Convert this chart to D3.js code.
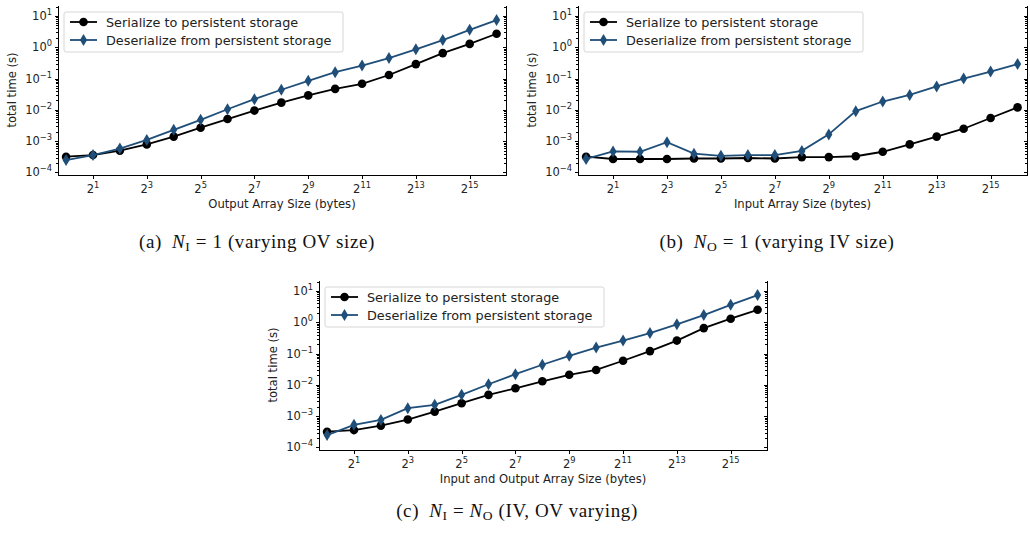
<!DOCTYPE html>
<meta charset="utf-8">
<head>
<style>
body { margin: 0; background: #fff; }
.axis path, .axis line { stroke: #000; stroke-width: 1; shape-rendering: crispEdges; }
.tick-label { font: 11.5px "DejaVu Sans", sans-serif; fill: #222; }
.axis-label { font: 11.6px "DejaVu Sans", sans-serif; fill: #222; }
.legend text { font: 12.8px "DejaVu Sans", sans-serif; fill: #222; }
.caption { font: 19px "Liberation Serif", serif; fill: #111; letter-spacing: 0.6px; }
</style>
<script src="https://d3js.org/d3.v7.min.js"></script>
</head>
<body>
<svg width="1030" height="533"></svg>
<script>

// array sizes in bytes (2^0 .. 2^16)
var arraySizes = [1, 2, 4, 8, 16, 32, 64, 128, 256, 512, 1024, 2048, 4096, 8192, 16384, 32768, 65536];
var xTickExps = [1, 3, 5, 7, 9, 11, 13, 15];
var yTickExps = [-4, -3, -2, -1, 0, 1];

// (a) N_I = 1, varying OV size
var serA   = [3.2e-4, 3.6e-4, 5.0e-4, 7.9e-4, 1.4e-3, 2.7e-3, 5.1e-3, 9.5e-3, 1.7e-2, 2.9e-2, 4.7e-2, 6.8e-2, 0.13, 0.29, 0.65, 1.28, 2.7];
var deserA = [2.5e-4, 3.6e-4, 5.8e-4, 1.1e-3, 2.3e-3, 4.8e-3, 1.05e-2, 2.2e-2, 4.4e-2, 8.5e-2, 0.16, 0.26, 0.45, 0.86, 1.7, 3.6, 7.4];

// (b) N_O = 1, varying IV size
var serB   = [3.2e-4, 2.7e-4, 2.7e-4, 2.7e-4, 2.8e-4, 2.8e-4, 2.9e-4, 2.8e-4, 3.1e-4, 3.1e-4, 3.3e-4, 4.6e-4, 7.9e-4, 1.4e-3, 2.5e-3, 5.5e-3, 1.2e-2];
var deserB = [2.7e-4, 4.7e-4, 4.6e-4, 9.3e-4, 4.0e-4, 3.4e-4, 3.6e-4, 3.6e-4, 4.9e-4, 1.65e-3, 9.1e-3, 1.85e-2, 3.0e-2, 5.6e-2, 0.10, 0.167, 0.29];

// (c) N_I = N_O, IV and OV varying
var serC   = [3.2e-4, 3.6e-4, 5.0e-4, 7.8e-4, 1.4e-3, 2.6e-3, 4.8e-3, 7.8e-3, 1.3e-2, 2.1e-2, 3.0e-2, 5.9e-2, 0.12, 0.26, 0.65, 1.3, 2.5];
var deserC = [2.5e-4, 5.3e-4, 7.6e-4, 1.8e-3, 2.3e-3, 4.8e-3, 1.05e-2, 2.2e-2, 4.4e-2, 8.5e-2, 0.155, 0.26, 0.45, 0.86, 1.7, 3.6, 7.4];

var seriesNames = ["Serialize to persistent storage", "Deserialize from persistent storage"];
var colors = ["#000000", "#1f4e79"];

var svg = d3.select("svg");

var panels = [
  { left: 58,  top: 5,   w: 448, h: 170, ser: serA, deser: deserA, xlabel: "Output Array Size (bytes)" },
  { left: 578, top: 5,   w: 449, h: 170, ser: serB, deser: deserB, xlabel: "Input Array Size (bytes)" },
  { left: 319, top: 280, w: 448, h: 170, ser: serC, deser: deserC, xlabel: "Input and Output Array Size (bytes)" }
];

panels.forEach(drawPanel);

function drawPanel(p) {
  var right = p.left + p.w, bottom = p.top + p.h;
  var g = svg.append("g");

  var x = d3.scaleLog().base(2)
      .domain([Math.pow(2, -0.3), Math.pow(2, 16.35)])
      .range([p.left, right]);
  var y = d3.scaleLog()
      .domain([Math.pow(10, -4.08), Math.pow(10, 1.35)])
      .range([bottom, p.top]);

  var majors = yTickExps.map(function(e) { return Math.pow(10, e); });
  var minors = [];
  yTickExps.forEach(function(e) {
    for (var k = 2; k <= 9; k++) {
      var v = k * Math.pow(10, e);
      if (v <= y.domain()[1]) minors.push(v);
    }
  });

  // left spine + ticks
  g.append("g").attr("class", "axis")
      .attr("transform", "translate(" + p.left + ",0)")
      .call(d3.axisLeft(y).tickValues(majors).tickSizeInner(3.5).tickSizeOuter(0).tickFormat(""));
  g.append("g").attr("class", "axis")
      .attr("transform", "translate(" + p.left + ",0)")
      .call(d3.axisLeft(y).tickValues(minors).tickSizeInner(2).tickSizeOuter(0).tickFormat(""));

  // right spine, ticks pointing in
  g.append("g").attr("class", "axis")
      .attr("transform", "translate(" + right + ",0)")
      .call(d3.axisLeft(y).tickValues(majors).tickSizeInner(3.5).tickSizeOuter(0).tickFormat(""));
  g.append("g").attr("class", "axis")
      .attr("transform", "translate(" + right + ",0)")
      .call(d3.axisLeft(y).tickValues(minors).tickSizeInner(2).tickSizeOuter(0).tickFormat(""));

  // y tick labels with superscripts
  yTickExps.forEach(function(e) {
    var t = g.append("text").attr("class", "tick-label")
        .attr("x", p.left - 6)
        .attr("y", y(Math.pow(10, e)) + 4)
        .attr("text-anchor", "end");
    t.append("tspan").text("10");
    t.append("tspan").attr("dy", -5).style("font-size", "8.3px")
        .text(e < 0 ? "\u2212" + (-e) : String(e));
  });

  // bottom spine + ticks
  g.append("g").attr("class", "axis")
      .attr("transform", "translate(0," + bottom + ")")
      .call(d3.axisBottom(x).tickValues(xTickExps.map(function(e) { return Math.pow(2, e); }))
        .tickSizeInner(3.5).tickSizeOuter(0).tickFormat(""));

  xTickExps.forEach(function(e) {
    var t = g.append("text").attr("class", "tick-label")
        .attr("x", x(Math.pow(2, e)))
        .attr("y", bottom + 18)
        .attr("text-anchor", "middle");
    t.append("tspan").text("2");
    t.append("tspan").attr("dy", -5).style("font-size", "8.3px").text(String(e));
  });

  // axis labels
  g.append("text").attr("class", "axis-label")
      .attr("x", (p.left + right) / 2)
      .attr("y", bottom + 33)
      .attr("text-anchor", "middle")
      .text(p.xlabel);
  g.append("text").attr("class", "axis-label")
      .attr("transform", "translate(" + (p.left - 42) + "," + (p.top + p.h / 2) + ") rotate(-90)")
      .attr("text-anchor", "middle")
      .text("total time (s)");

  // lines
  var line = d3.line()
      .x(function(d, i) { return x(arraySizes[i]); })
      .y(function(d) { return y(d); });

  [p.ser, p.deser].forEach(function(vals, si) {
    g.append("path")
        .attr("d", line(vals))
        .attr("fill", "none")
        .attr("stroke", colors[si])
        .attr("stroke-width", 1.8);
    g.append("g").selectAll("path")
        .data(vals)
        .enter().append("path")
          .attr("transform", function(d, i) { return "translate(" + x(arraySizes[i]) + "," + y(d) + ")"; })
          .attr("d", si === 0 ? circleMarker() : diamondMarker())
          .attr("fill", colors[si]);
  });

  // legend
  var lx = p.left + 6, ly = p.top + 7;
  var leg = g.append("g").attr("class", "legend");
  leg.append("rect")
      .attr("x", lx).attr("y", ly)
      .attr("width", 279).attr("height", 40)
      .attr("rx", 2)
      .attr("fill", "#fff").attr("fill-opacity", 0.8)
      .attr("stroke", "#ccc").attr("stroke-width", 0.8);
  seriesNames.forEach(function(name, si) {
    var cy = ly + 10 + si * 18;
    leg.append("line")
        .attr("x1", lx + 6).attr("x2", lx + 33)
        .attr("y1", cy).attr("y2", cy)
        .attr("stroke", colors[si]).attr("stroke-width", 1.8);
    leg.append("path")
        .attr("transform", "translate(" + (lx + 19.5) + "," + cy + ")")
        .attr("d", si === 0 ? circleMarker() : diamondMarker())
        .attr("fill", colors[si]);
    leg.append("text")
        .attr("x", lx + 42).attr("y", cy + 4.5)
        .text(name);
  });
}

function circleMarker() {
  var r = 4.3;
  return "M" + r + ",0A" + r + "," + r + " 0 1,1 " + (-r) + ",0A" + r + "," + r + " 0 1,1 " + r + ",0Z";
}
function diamondMarker() {
  return "M0,-6L3.6,0L0,6L-3.6,0Z";
}

// captions
var captions = [
  { cx: 257, y: 248, label: "(a)", lhs: ["N", "I"], rhs: " = 1 (varying OV size)" },
  { cx: 777, y: 248, label: "(b)", lhs: ["N", "O"], rhs: " = 1 (varying IV size)" },
  { cx: 517, y: 517, label: "(c)", lhs: ["N", "I"], rhs: null }
];
captions.forEach(function(c) {
  var t = svg.append("text").attr("class", "caption")
      .attr("x", c.cx).attr("y", c.y)
      .attr("text-anchor", "middle")
      .attr("xml:space", "preserve");
  t.append("tspan").text(c.label + "\u2002");
  t.append("tspan").style("font-style", "italic").text(c.lhs[0]);
  t.append("tspan").attr("dy", 3).style("font-size", "13.5px").text(c.lhs[1]);
  if (c.rhs) {
    t.append("tspan").attr("dy", -3).text(c.rhs);
  } else {
    t.append("tspan").attr("dy", -3).text(" = ");
    t.append("tspan").style("font-style", "italic").text("N");
    t.append("tspan").attr("dy", 3).style("font-size", "13.5px").text("O");
    t.append("tspan").attr("dy", -3).text(" (IV, OV varying)");
  }
});

</script>
</body>
